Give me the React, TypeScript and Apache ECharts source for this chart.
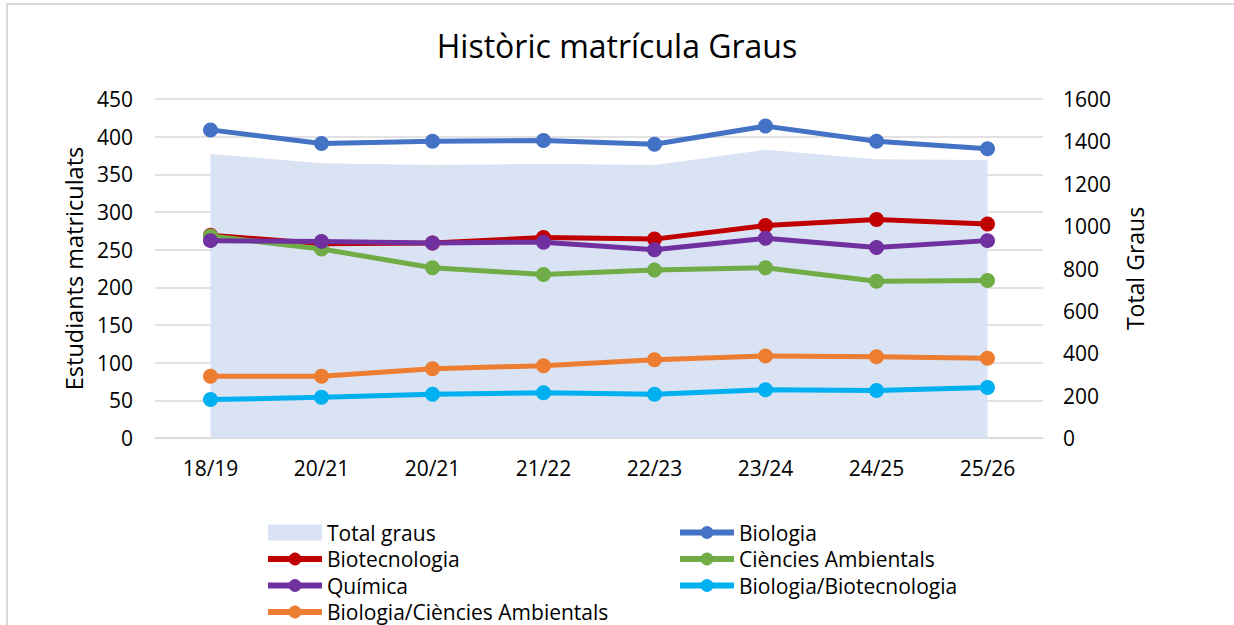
import React, { useEffect, useRef } from "react";
import * as echarts from "echarts";

const categories = ["18/19", "20/21", "20/21", "21/22", "22/23", "23/24", "24/25", "25/26"];
const totalGraus = [1341, 1297, 1288, 1294, 1289, 1360, 1316, 1312];
const biologia = [409, 391, 394, 395, 390, 414, 394, 384];
const biotecnologia = [269, 258, 259, 266, 264, 282, 290, 284];
const cienciesAmbientals = [268, 251, 226, 217, 223, 226, 208, 209];
const quimica = [262, 261, 259, 260, 250, 265, 253, 262];
const bioBiotec = [51, 54, 58, 60, 58, 64, 63, 67];
const bioCA = [82, 82, 92, 96, 104, 109, 108, 106];

const FONT = "Open Sans";

export default function App() {
  const ref = useRef<HTMLDivElement>(null);
  useEffect(() => {
    if (!ref.current) return;
    const chart = echarts.init(ref.current, null, { renderer: "svg" });
    const lineSeries = (name: string, data: number[], color: string, z: number) => ({
      name,
      type: "line",
      data,
      yAxisIndex: 0,
      symbol: "circle",
      symbolSize: 15,
      z,
      lineStyle: { color, width: 5 },
      itemStyle: { color },
    });
    const legendCommon = {
      orient: "vertical",
      top: 522,
      itemWidth: 54,
      itemHeight: 16,
      itemGap: 5.5,
      padding: 0,
      lineStyle: { width: 6 },
      textStyle: { fontFamily: FONT, fontSize: 21, color: "#000", lineHeight: 21 },
    };
    chart.setOption({
      animation: false,
      backgroundColor: "#fff",
      textStyle: { fontFamily: FONT },
      title: {
        text: "Històric matrícula Graus",
        left: "center",
        top: 29,
        padding: 0,
        textStyle: { fontFamily: FONT, fontSize: 32, fontWeight: "normal", color: "#000" },
      },
      graphic: [
        {
          type: "rect",
          shape: { x: 7, y: 4, width: 1300, height: 700 },
          style: { fill: "none", stroke: "#d9d9d9", lineWidth: 2 },
          silent: true,
        },
      ],
      grid: { left: 155, right: 191, top: 99, bottom: 187, containLabel: false },
      legend: [
        {
          ...legendCommon,
          left: 265,
          data: [
            { name: "Total graus", icon: "rect", itemStyle: { opacity: 1 } },
            "Biotecnologia",
            "Química",
            "Biologia/Ciències Ambientals",
          ],
        },
        {
          ...legendCommon,
          left: 677,
          data: ["Biologia", "Ciències Ambientals", "Biologia/Biotecnologia"],
        },
      ],
      xAxis: {
        type: "category",
        data: categories,
        boundaryGap: true,
        axisLine: { show: true, lineStyle: { color: "#d9d9d9", width: 1.5 } },
        axisTick: { show: false },
        axisLabel: { interval: 0, margin: 19, fontFamily: FONT, fontSize: 21, color: "#000" },
      },
      yAxis: [
        {
          type: "value",
          min: 0,
          max: 450,
          interval: 50,
          name: "Estudiants matriculats",
          nameLocation: "middle",
          nameRotate: 90,
          nameGap: 68,
          nameTextStyle: { fontFamily: FONT, fontSize: 23.5, color: "#000" },
          axisLine: { show: false },
          axisTick: { show: false },
          axisLabel: { margin: 22, fontFamily: FONT, fontSize: 21, color: "#000" },
          splitLine: { show: true, lineStyle: { color: "#d9d9d9", width: 1.5 } },
        },
        {
          type: "value",
          min: 0,
          max: 1600,
          interval: 200,
          name: "Total Graus",
          nameLocation: "middle",
          nameRotate: 90,
          nameGap: 80,
          nameTextStyle: { fontFamily: FONT, fontSize: 23, color: "#000" },
          axisLine: { show: false },
          axisTick: { show: false },
          axisLabel: {
            margin: 20,
            fontFamily: FONT,
            fontSize: 21,
            color: "#000",
            formatter: (v: number) => String(v),
          },
          splitLine: { show: false },
        },
      ],
      series: [
        {
          name: "Total graus",
          type: "line",
          data: totalGraus,
          yAxisIndex: 1,
          symbol: "none",
          z: 1,
          lineStyle: { width: 0, color: "#DAE3F3" },
          itemStyle: { color: "#DAE3F3" },
          areaStyle: { color: "#DAE3F3", opacity: 1 },
        },
        lineSeries("Biologia", biologia, "#4472C4", 3),
        lineSeries("Biotecnologia", biotecnologia, "#C00000", 4),
        lineSeries("Ciències Ambientals", cienciesAmbientals, "#70AD47", 5),
        lineSeries("Química", quimica, "#7030A0", 6),
        lineSeries("Biologia/Biotecnologia", bioBiotec, "#00B0F0", 7),
        lineSeries("Biologia/Ciències Ambientals", bioCA, "#ED7D31", 8),
      ],
    });
    return () => chart.dispose();
  }, []);
  return (
    <div
      ref={ref}
      style={{ position: "fixed", left: 0, top: 0, width: 1234, height: 625 }}
    />
  );
}
